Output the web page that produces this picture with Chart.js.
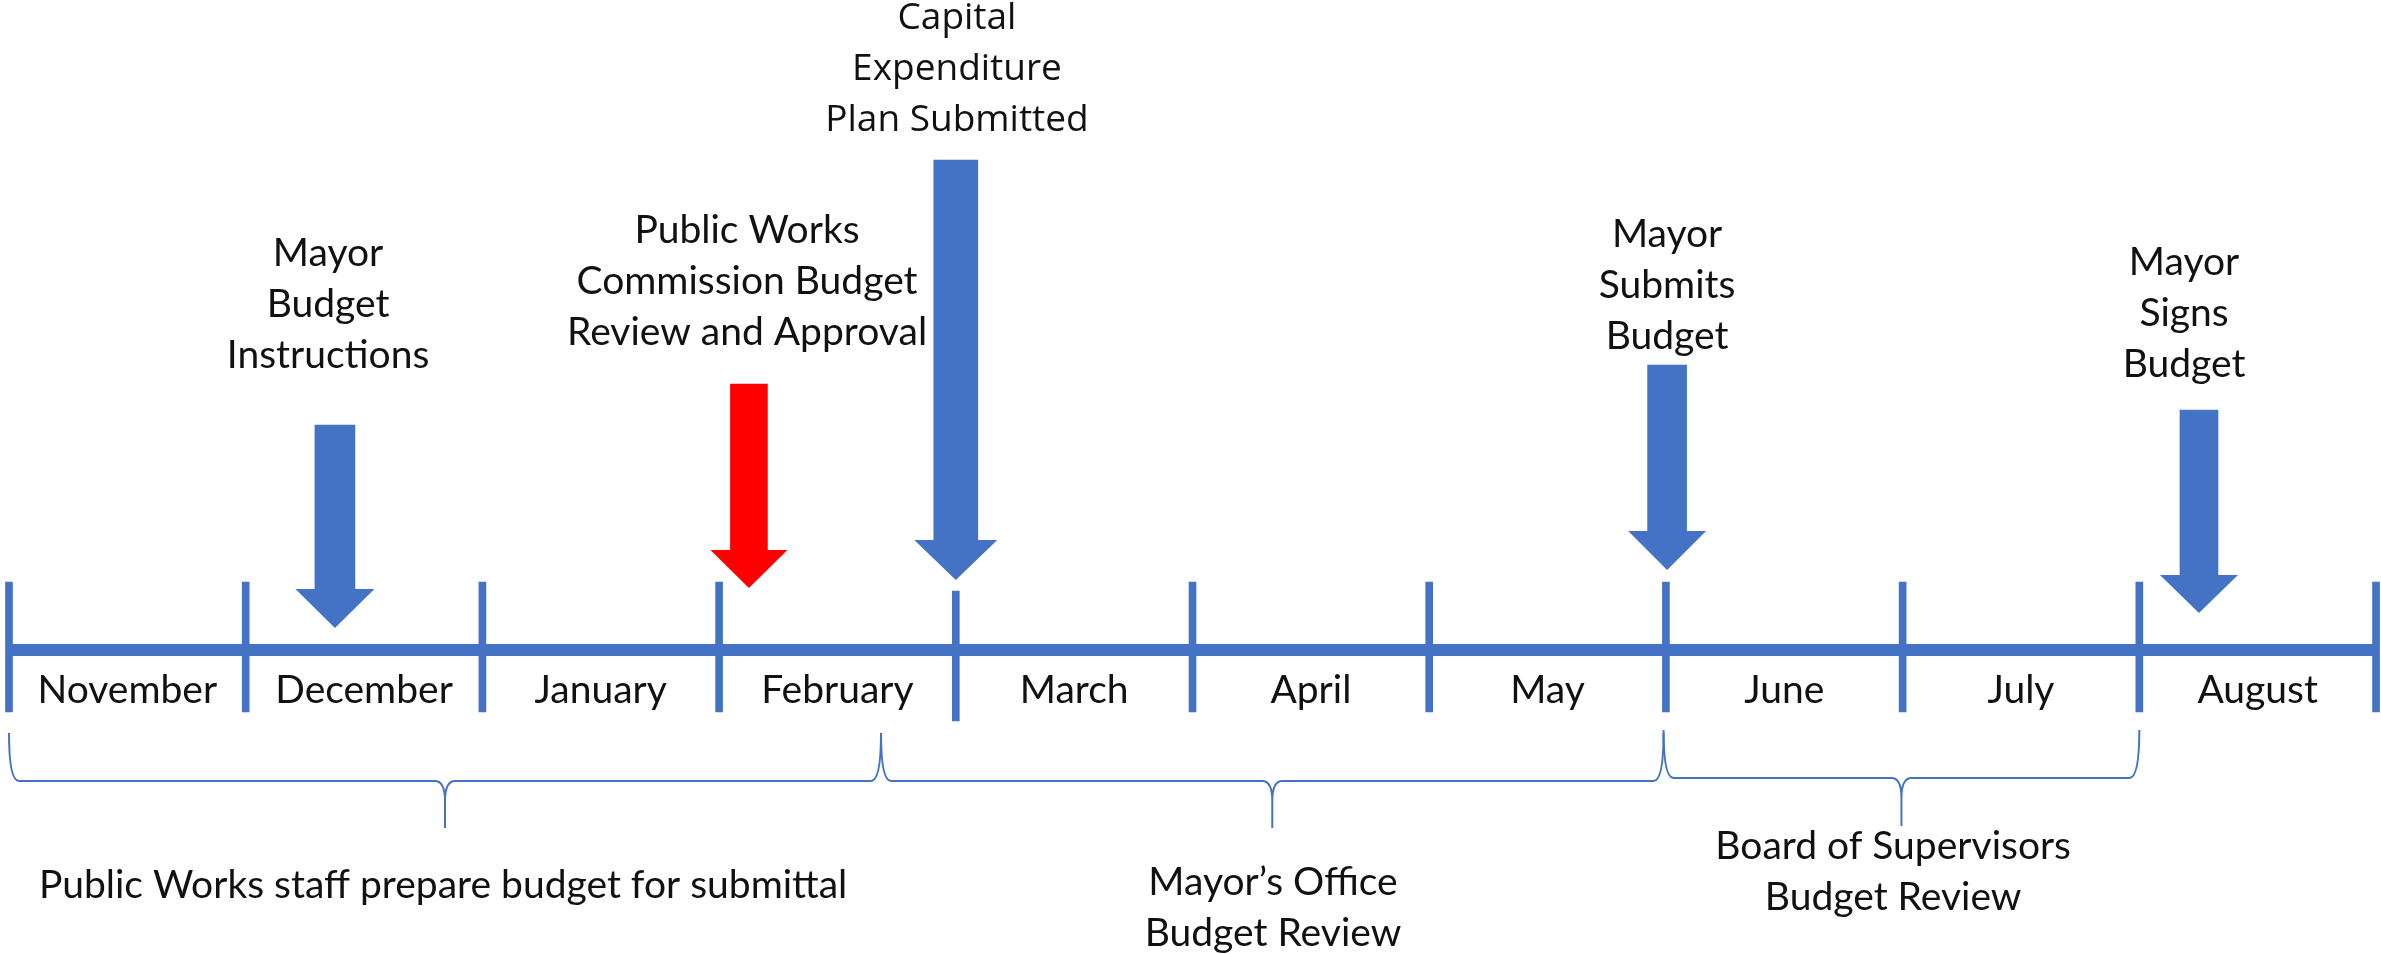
<!DOCTYPE html>
<html>
<head>
<meta charset="utf-8">
<title>Budget timeline</title>
<script src="https://cdn.jsdelivr.net/npm/chart.js@4.4.0/dist/chart.umd.min.js"></script>
<style>
  html, body { margin: 0; padding: 0; background: #fff; overflow: hidden; }
  canvas { display: block; }
</style>
</head>
<body>
<canvas id="timeline" width="2381" height="954"></canvas>
<script>
// months sit between tick marks 0..10
const months = ["November", "December", "January", "February", "March", "April", "May", "June", "July", "August"];
const tickPositions = [0, 1, 2, 3, 4, 5, 6, 7, 8, 9, 10];
const tickTops = [68, 68, 68, 68, 59, 68, 68, 68, 68, 68, 68];
const tickBottoms = [-62, -62, -62, -62, -71, -62, -62, -62, -62, -62, -62];
const monthLabelY = -53;

// milestone arrows
const eventX = [1.377, 3.126, 4.0, 7.005, 9.252];
const eventShaftTop = [225, 266, 490, 285, 240];
const eventHeadBase = [61, 100, 110, 119, 75];
const eventTip = [22, 62, 70, 80, 37];
const eventLabels = [
  ["Mayor", "Budget", "Instructions"],
  ["Public Works", "Commission Budget", "Review and Approval"],
  ["Capital", "Expenditure", "Plan Submitted"],
  ["Mayor", "Submits", "Budget"],
  ["Mayor", "Signs", "Budget"]
];
const eventLabelX = [1.348, 3.118, 4.005, 7.005, 9.189];
const eventLabelY = [384, 407, 621, 403, 375];

// phases (braces under the line)
const phaseStart = [0, 3.684, 6.99];
const phaseEnd = [3.684, 6.99, 9];
const phaseTop = [-83, -83, -80];
const phaseMid = [-131, -131, -128];
const phaseTip = [-178, -178, -176];
const phaseLabels = [
  ["Public Works staff prepare budget for submittal"],
  ["Mayor\u2019s Office", "Budget Review"],
  ["Board of Supervisors", "Budget Review"]
];
const phaseLabelX = [1.834, 5.34, 7.96];
const phaseLabelY = [-248, -245, -209];

const BLUE = "#4472C4";
const RED = "#FF0000";
const eventColors = [BLUE, RED, BLUE, BLUE, BLUE];
const eventFonts = ["Lato", "Lato", "Open Sans", "Lato", "Lato"];
const shaftWidths = [40, 37, 44, 39, 38];
const headWidths = [79, 77, 83, 78, 78];
const LINE_GAP = 51;

const arrowHeads = {
  id: "arrowHeads",
  afterDatasetsDraw(chart) {
    const { ctx, scales: { x, y } } = chart;
    ctx.save();
    for (let i = 0; i < eventX.length; i++) {
      const cx = x.getPixelForValue(eventX[i]);
      const yb = y.getPixelForValue(eventHeadBase[i]);
      const yt = y.getPixelForValue(eventTip[i]);
      const hw = headWidths[i] / 2;
      ctx.fillStyle = eventColors[i];
      ctx.beginPath();
      ctx.moveTo(cx - hw, yb);
      ctx.lineTo(cx + hw, yb);
      ctx.lineTo(cx, yt);
      ctx.closePath();
      ctx.fill();
    }
    ctx.restore();
  }
};

const braces = {
  id: "braces",
  afterDatasetsDraw(chart) {
    const { ctx, scales: { x, y } } = chart;
    ctx.save();
    ctx.strokeStyle = BLUE;
    ctx.lineWidth = 2;
    for (let i = 0; i < phaseStart.length; i++) {
      const x0 = x.getPixelForValue(phaseStart[i]);
      const x1 = x.getPixelForValue(phaseEnd[i]);
      const xc = (x0 + x1) / 2;
      const yt = y.getPixelForValue(phaseTop[i]);
      const ym = y.getPixelForValue(phaseMid[i]);
      const yp = y.getPixelForValue(phaseTip[i]);
      const r = 10;
      ctx.beginPath();
      ctx.moveTo(x0, yt);
      ctx.quadraticCurveTo(x0, ym, x0 + r, ym);
      ctx.lineTo(xc - r, ym);
      ctx.quadraticCurveTo(xc, ym, xc, ym + 2 * r);
      ctx.lineTo(xc, yp);
      ctx.moveTo(xc, ym + 2 * r);
      ctx.quadraticCurveTo(xc, ym, xc + r, ym);
      ctx.lineTo(x1 - r, ym);
      ctx.quadraticCurveTo(x1, ym, x1, yt);
      ctx.stroke();
    }
    ctx.restore();
  }
};

const labels = {
  id: "labels",
  afterDraw(chart) {
    const { ctx, scales: { x, y } } = chart;
    ctx.save();
    ctx.fillStyle = "#111";
    ctx.textAlign = "center";
    ctx.textBaseline = "alphabetic";

    ctx.font = "39px Lato";
    months.forEach((m, i) => {
      ctx.fillText(m, x.getPixelForValue(i + 0.5), y.getPixelForValue(monthLabelY));
    });

    eventLabels.forEach((lines, i) => {
      ctx.font = eventFonts[i] === "Open Sans" ? "37px 'Open Sans'" : "39px Lato";
      lines.forEach((t, j) => {
        ctx.fillText(t, x.getPixelForValue(eventLabelX[i]), y.getPixelForValue(eventLabelY[i] - j * LINE_GAP));
      });
    });

    ctx.font = "39px Lato";
    phaseLabels.forEach((lines, i) => {
      lines.forEach((t, j) => {
        ctx.fillText(t, x.getPixelForValue(phaseLabelX[i]), y.getPixelForValue(phaseLabelY[i] - j * LINE_GAP));
      });
    });
    ctx.restore();
  }
};

// one floating bar per arrow shaft so each can keep its own width
const shaftSets = eventX.map((p, i) => ({
  type: "bar",
  data: [{ x: p, y: [eventHeadBase[i], eventShaftTop[i]] }],
  backgroundColor: eventColors[i],
  barThickness: shaftWidths[i],
  grouped: false
}));

new Chart(document.getElementById("timeline"), {
  data: {
    datasets: [
      {
        type: "line",
        data: [{ x: tickPositions[0], y: 0 }, { x: tickPositions[tickPositions.length - 1], y: 0 }],
        borderColor: BLUE,
        borderWidth: 12,
        pointRadius: 0
      },
      {
        type: "bar",
        data: tickPositions.map((p, i) => ({ x: p, y: [tickBottoms[i], tickTops[i]] })),
        backgroundColor: BLUE,
        barThickness: 7,
        grouped: false
      },
      ...shaftSets
    ]
  },
  options: {
    responsive: false,
    animation: false,
    layout: { padding: 0 },
    plugins: { legend: { display: false }, tooltip: { enabled: false } },
    scales: {
      x: { type: "linear", offset: false, min: -0.038, max: 10.021, display: false },
      y: { type: "linear", min: -304, max: 650, display: false }
    }
  },
  plugins: [arrowHeads, braces, labels]
});
</script>
</body>
</html>
